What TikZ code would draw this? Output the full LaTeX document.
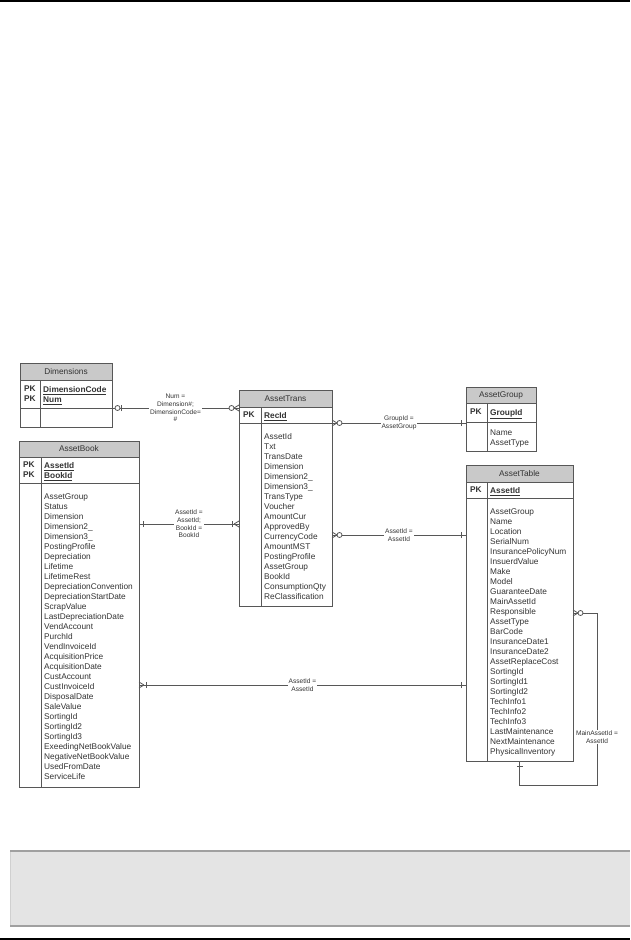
\documentclass[tikz,border=0pt]{standalone}
\usepackage{fontspec}
\setmainfont{Liberation Sans}
\usetikzlibrary{positioning, calc, decorations.markings}
\definecolor{erline}{HTML}{575757}
\definecolor{erhead}{HTML}{C9C9C9}
\definecolor{ertext}{HTML}{333333}
\definecolor{notefill}{HTML}{E4E4E4}
\definecolor{noteedge}{HTML}{A0A0A0}

\begin{document}
\begin{tikzpicture}[
    x=1pt, y=1pt,
    tabhead/.style={
        draw=erline,
        fill=erhead,
        line width=0.8,
        minimum height=17,
        inner sep=0pt,
        outer sep=0pt,
        font=\fontsize{8.3}{10}\selectfont,
        text=ertext
    },
    tabrow/.style={
        draw=erline,
        fill=white,
        line width=0.8,
        inner sep=0pt,
        outer sep=0pt
    },
    tabline/.style={
        draw=erline,
        line width=0.8
    },
    tabpk/.style={
        anchor=north west,
        inner sep=0pt,
        align=left,
        font=\fontsize{8.3}{10}\selectfont\bfseries,
        text=ertext
    },
    tabfield/.style={
        anchor=north west,
        inner sep=0pt,
        align=left,
        font=\fontsize{8.3}{10}\selectfont,
        text=ertext
    },
    rel/.style={
        draw=erline,
        line width=0.8
    },
    rlab/.style={
        fill=white,
        inner sep=1pt,
        align=center,
        font=\fontsize{6.6}{7.6}\selectfont,
        text=ertext
    },
    mk/.style={
        draw=erline,
        line width=0.8
    },
    zoStart/.style={postaction={decorate, decoration={markings, mark=at position 0 with {
        \draw [mk, fill=white] (5.5pt,0pt) circle [radius=2.5pt];
        \draw [mk] (9.5pt,-3pt) -- (9.5pt,3pt);}}}},
    mzStart/.style={postaction={decorate, decoration={markings, mark=at position 0 with {
        \draw [mk] (5pt,0pt) -- (0pt,3pt) (5pt,0pt) -- (0pt,-3pt);
        \draw [mk, fill=white] (7.5pt,0pt) circle [radius=2.5pt];}}}},
    mzEnd/.style={postaction={decorate, decoration={markings, mark=at position 1 with {
        \draw [mk] (-5pt,0pt) -- (0pt,3pt) (-5pt,0pt) -- (0pt,-3pt);
        \draw [mk, fill=white] (-7.5pt,0pt) circle [radius=2.5pt];}}}},
    moStart/.style={postaction={decorate, decoration={markings, mark=at position 0 with {
        \draw [mk] (5pt,0pt) -- (0pt,3pt) (5pt,0pt) -- (0pt,-3pt);
        \draw [mk] (7.5pt,-3pt) -- (7.5pt,3pt);}}}},
    moEnd/.style={postaction={decorate, decoration={markings, mark=at position 1 with {
        \draw [mk] (-5pt,0pt) -- (0pt,3pt) (-5pt,0pt) -- (0pt,-3pt);
        \draw [mk] (-6.5pt,-3pt) -- (-6.5pt,3pt);}}}},
    oneStart/.style={postaction={decorate, decoration={markings, mark=at position 0 with {
        \draw [mk] (4pt,-3pt) -- (4pt,3pt);}}}},
    oneEnd/.style={postaction={decorate, decoration={markings, mark=at position 1 with {
        \draw [mk] (-5pt,-3pt) -- (-5pt,3pt);}}}}
]
\useasboundingbox (0,0) rectangle (630,-940);

% Page rules and note box
\draw [line width=2] (0,-1) -- (630,-1);
\fill [notefill] (10,-851) rectangle (630,-926);
\draw [noteedge!50, line width=0.6] (10,-851) -- (10,-926);
\draw [noteedge, line width=1.5] (10,-851) -- (630,-851);
\draw [noteedge, line width=1.5] (10,-926) -- (630,-926);
\draw [line width=2] (0,-938.5) -- (630,-938.5);

% Dimensions
\node (dimHead) [tabhead, minimum width=92, anchor=north west] at (20,-363) {Dimensions};
\node (dimPK) [tabrow, minimum width=92, minimum height=28, below=0pt of dimHead] {};
\node (dimBody) [tabrow, minimum width=92, minimum height=19, below=0pt of dimPK] {};
\draw [tabline] ([xshift=20]dimPK.north west) -- ([xshift=20]dimBody.south west);
\node [tabpk] at ([shift={(4,-6)}]dimPK.north west) {PK\\PK};
\node [tabpk] at ([shift={(23,-6)}]dimPK.north west) {\underline{DimensionCode}\\\underline{Num}};

% AssetTrans
\node (trHead) [tabhead, minimum width=93, anchor=north west] at (239,-390) {AssetTrans};
\node (trPK) [tabrow, minimum width=93, minimum height=16, below=0pt of trHead] {};
\node (trBody) [tabrow, minimum width=93, minimum height=183, below=0pt of trPK] {};
\draw [tabline] ([xshift=22]trPK.north west) -- ([xshift=22]trBody.south west);
\node [tabpk] at ([shift={(4,-5)}]trPK.north west) {PK};
\node [tabpk] at ([shift={(25,-5)}]trPK.north west) {\underline{RecId}};
\node [tabfield] at ([shift={(25,-10)}]trBody.north west) {AssetId\\Txt\\TransDate\\Dimension\\Dimension2\_\\Dimension3\_\\TransType\\Voucher\\AmountCur\\ApprovedBy\\CurrencyCode\\AmountMST\\PostingProfile\\AssetGroup\\BookId\\ConsumptionQty\\ReClassification};

% AssetGroup
\node (grpHead) [tabhead, minimum width=70, minimum height=16, anchor=north west] at (466,-387) {AssetGroup};
\node (grpPK) [tabrow, minimum width=70, minimum height=19, below=0pt of grpHead] {};
\node (grpBody) [tabrow, minimum width=70, minimum height=29, below=0pt of grpPK] {};
\draw [tabline] ([xshift=21]grpPK.north west) -- ([xshift=21]grpBody.south west);
\node [tabpk] at ([shift={(4,-6)}]grpPK.north west) {PK};
\node [tabpk] at ([shift={(24,-6)}]grpPK.north west) {\underline{GroupId}};
\node [tabfield] at ([shift={(24,-8)}]grpBody.north west) {Name\\AssetType};

% AssetBook
\node (abHead) [tabhead, minimum width=120, minimum height=16, anchor=north west] at (19,-441) {AssetBook};
\node (abPK) [tabrow, minimum width=120, minimum height=26, below=0pt of abHead] {};
\node (abBody) [tabrow, minimum width=120, minimum height=304, below=0pt of abPK] {};
\draw [tabline] ([xshift=22]abPK.north west) -- ([xshift=22]abBody.south west);
\node [tabpk] at ([shift={(4,-5)}]abPK.north west) {PK\\PK};
\node [tabpk] at ([shift={(25,-5)}]abPK.north west) {\underline{AssetId}\\\underline{BookId}};
\node [tabfield] at ([shift={(25,-10)}]abBody.north west) {AssetGroup\\Status\\Dimension\\Dimension2\_\\Dimension3\_\\PostingProfile\\Depreciation\\Lifetime\\LifetimeRest\\DepreciationConvention\\DepreciationStartDate\\ScrapValue\\LastDepreciationDate\\VendAccount\\PurchId\\VendInvoiceId\\AcquisitionPrice\\AcquisitionDate\\CustAccount\\CustInvoiceId\\DisposalDate\\SaleValue\\SortingId\\SortingId2\\SortingId3\\ExeedingNetBookValue\\NegativeNetBookValue\\UsedFromDate\\ServiceLife};

% AssetTable
\node (tbHead) [tabhead, minimum width=107, anchor=north west] at (466,-465) {AssetTable};
\node (tbPK) [tabrow, minimum width=107, minimum height=16, below=0pt of tbHead] {};
\node (tbBody) [tabrow, minimum width=107, minimum height=263, below=0pt of tbPK] {};
\draw [tabline] ([xshift=21]tbPK.north west) -- ([xshift=21]tbBody.south west);
\node [tabpk] at ([shift={(4,-5)}]tbPK.north west) {PK};
\node [tabpk] at ([shift={(24,-5)}]tbPK.north west) {\underline{AssetId}};
\node [tabfield] at ([shift={(24,-10)}]tbBody.north west) {AssetGroup\\Name\\Location\\SerialNum\\InsurancePolicyNum\\InsuerdValue\\Make\\Model\\GuaranteeDate\\MainAssetId\\Responsible\\AssetType\\BarCode\\InsuranceDate1\\InsuranceDate2\\AssetReplaceCost\\SortingId\\SortingId1\\SortingId2\\TechInfo1\\TechInfo2\\TechInfo3\\LastMaintenance\\NextMaintenance\\PhysicalInventory};

% Relations
\coordinate (bookTrans) at ([yshift=-41]abBody.north east);
\coordinate (transTable) at ([yshift=-112]trBody.north east);
\coordinate (bookTable) at ([yshift=-202]abBody.north east);
\coordinate (mainAsset) at ([yshift=-115]tbBody.north east);

\draw [rel, zoStart, mzEnd] (dimPK.south east) -- (dimPK.south east -| trPK.west)
    node [rlab, midway] {Num =\\Dimension\#;\\DimensionCode=\\\#};
\draw [rel, mzStart, oneEnd] (trPK.south east) -- (trPK.south east -| grpPK.west)
    node [rlab, midway] {GroupId =\\AssetGroup};
\draw [rel, oneStart, moEnd] (bookTrans) -- (bookTrans -| trBody.west)
    node [rlab, midway] {AssetId =\\AssetId;\\BookId =\\BookId};
\draw [rel, mzStart, oneEnd] (transTable) -- (transTable -| tbBody.west)
    node [rlab, midway] {AssetId =\\AssetId};
\draw [rel, moStart, oneEnd] (bookTable) -- (bookTable -| tbBody.west)
    node [rlab, midway] {AssetId =\\AssetId};
\draw [rel, mzStart, oneEnd] (mainAsset) -- ++(24,0) |- ([yshift=-24]tbBody.south)
    node [rlab, pos=0.36] {MainAssetId =\\AssetId} -- (tbBody.south);

\end{tikzpicture}
\end{document}
